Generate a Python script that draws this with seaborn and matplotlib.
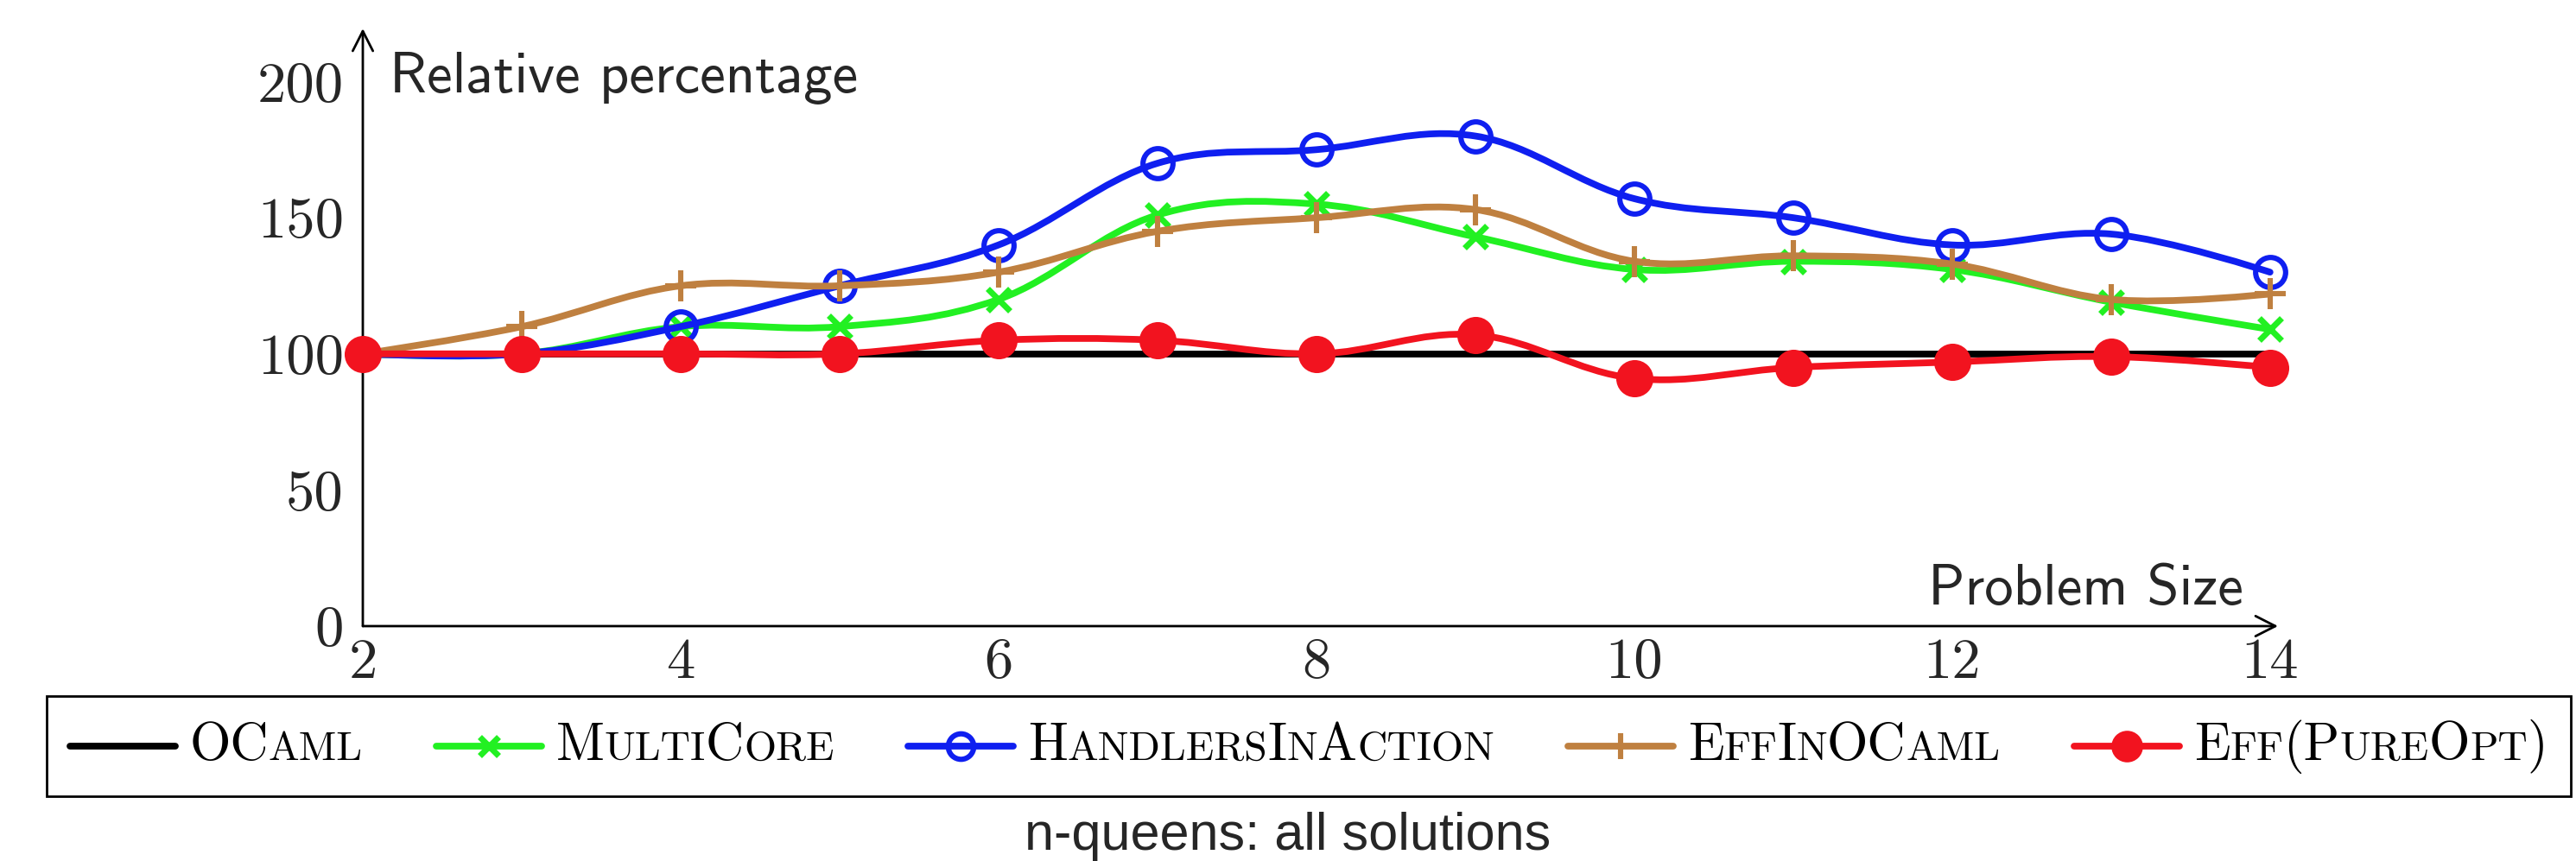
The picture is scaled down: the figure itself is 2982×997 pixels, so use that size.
import matplotlib
matplotlib.use("Agg")
import matplotlib.pyplot as plt
import numpy as np
import seaborn as sns
from matplotlib.lines import Line2D
from matplotlib.offsetbox import AnchoredOffsetbox, DrawingArea, HPacker, TextArea
from matplotlib.patches import PathPatch
from matplotlib.path import Path

# ── data ──────────────────────────────────────────────────────────────────
problem_size = [2, 3, 4, 5, 6, 7, 8, 9, 10, 11, 12, 13, 14]
ocaml = [100, 100, 100, 100, 100, 100, 100, 100, 100, 100, 100, 100, 100]
multicore = [100, 100, 110, 110, 120, 151, 155, 143, 131, 134, 131, 119, 109]
handlers_in_action = [100, 100, 110, 125, 140, 170, 175, 180, 157, 150, 140, 144, 130]
eff_in_ocaml = [100, 110, 125, 125, 130, 145, 150, 153, 134, 136, 133, 120, 122]
eff_pure_opt = [100, 100, 100, 100, 105, 105, 100, 107, 91, 95, 97, 99, 95]

series_names = ["OCaml", "MultiCore", "HandlersInAction", "EffInOCaml", "Eff(PureOpt)"]
x_ticks = [2, 4, 6, 8, 10, 12, 14]
y_ticks = [0, 50, 100, 150, 200]

# ── styles (pgfplots look) ────────────────────────────────────────────────
colors = ["black", "#22F022", "#0F1FF0", "#BF8040", "#F2131F"]
markers = [None, "x", "o", "+", "o"]
marker_sizes = [0, 19, 25, 26, 31]
marker_faces = [None, "#22F022", "none", "#BF8040", "#F2131F"]
marker_edges = [0, 5.0, 4.4, 4.4, 0]
LW = 5.6
SMOOTH = 0.18   # bezier handle factor, gives the "smooth" pgfplots look


def smooth_path(xs, ys, f=SMOOTH):
    """TikZ-style 'smooth' curve: cubic Bezier through every point."""
    p = np.column_stack([xs, ys]).astype(float)
    verts, codes = [p[0]], [Path.MOVETO]
    n = len(p)
    for i in range(n - 1):
        c1 = p[i] if i == 0 else p[i] + f * (p[i + 1] - p[i - 1])
        c2 = p[i + 1] if i + 1 == n - 1 else p[i + 1] - f * (p[i + 2] - p[i])
        verts += [c1, c2, p[i + 1]]
        codes += [Path.CURVE4] * 3
    return Path(verts, codes)


def smallcaps_label(name, size, ratio=0.78):
    runs = []
    for ch in name:
        small = ch.islower()
        if runs and runs[-1][1] == small:
            runs[-1][0] += ch
        else:
            runs.append([ch, small])
    parts = [
        TextArea(t.upper() if s else t,
                 textprops=dict(fontfamily="cmr10", fontsize=size * ratio if s else size, color="black"))
        for t, s in runs
    ]
    return HPacker(children=parts, align="baseline", pad=0, sep=0)


sns.set_theme(style="white")
plt.rcParams["font.family"] = ["DejaVu Sans"]
plt.rcParams["axes.formatter.use_mathtext"] = True

W, H = 2982, 997
fig = plt.figure(figsize=(W / 100, H / 100), dpi=100)
ax = fig.add_axes([420 / W, 1 - 725 / H, 2217 / W, 692 / H])

all_series = [ocaml, multicore, handlers_in_action, eff_in_ocaml, eff_pure_opt]

sns.lineplot(x=problem_size, y=ocaml, ax=ax, color="black", lw=LW, zorder=2, clip_on=False)
for i, vals in enumerate(all_series[1:], start=1):
    ax.add_patch(PathPatch(smooth_path(problem_size, vals), fill=False, edgecolor=colors[i],
                           lw=LW, zorder=2 + 2 * i, capstyle="round", joinstyle="round", clip_on=False))
    sns.lineplot(x=problem_size, y=vals, ax=ax, color=colors[i], linestyle="none",
                 marker=markers[i], markersize=marker_sizes[i],
                 markerfacecolor=marker_faces[i], markeredgecolor=colors[i],
                 markeredgewidth=marker_edges[i], zorder=3 + 2 * i, clip_on=False)

ax.set_xlim(2, 14.05)
ax.set_ylim(0, 219.5)
ax.set_xticks(x_ticks, labels=[str(t) for t in x_ticks], fontfamily="cmr10", fontsize=48)
ax.set_yticks(y_ticks, labels=[str(t) for t in y_ticks], fontfamily="cmr10", fontsize=48)
ax.tick_params(axis="both", length=0)
ax.tick_params(axis="x", pad=10)
ax.tick_params(axis="y", pad=16)
ax.set_xlabel("")
ax.set_ylabel("")
ax.grid(False)
sns.despine(ax=ax, left=True, bottom=True)

arrow = dict(arrowstyle="->,head_length=0.55,head_width=0.28", lw=2.0, color="black",
             shrinkA=0, shrinkB=0, mutation_scale=30)
ax.annotate("", xy=(1, 0), xytext=(0, 0), xycoords="axes fraction", arrowprops=arrow, annotation_clip=False)
ax.annotate("", xy=(0, 1), xytext=(0, 0), xycoords="axes fraction", arrowprops=arrow, annotation_clip=False)

fig.text(451 / W, 1 - 107 / H, "Relative percentage", fontfamily="cmss10", fontsize=48,
         ha="left", va="baseline")
fig.text(2597 / W, 1 - 700 / H, "Problem Size", fontfamily="cmss10", fontsize=48,
         ha="right", va="baseline")

# legend box below the plot
entries = []
for i, name in enumerate(series_names):
    da = DrawingArea(88, 36, 0, 0)
    da.add_artist(Line2D([0, 88], [18, 18], color=colors[i], lw=LW))
    if markers[i]:
        da.add_artist(Line2D([44], [18], marker=markers[i], markersize=marker_sizes[i] * 0.85,
                             markerfacecolor=marker_faces[i], markeredgecolor=colors[i],
                             markeredgewidth=marker_edges[i], linestyle="none"))
    entries.append(HPacker(children=[da, smallcaps_label(name, 44)], align="center", pad=0, sep=12))

row = HPacker(children=entries, align="center", pad=19, sep=0, mode="expand", width=2869)
legend_box = AnchoredOffsetbox(loc="center", child=row, pad=0, borderpad=0, frameon=True,
                               bbox_to_anchor=(1515 / W, 1 - 864 / H), bbox_transform=fig.transFigure)
legend_box.patch.set_linewidth(2)
legend_box.patch.set_edgecolor("black")
fig.add_artist(legend_box)

fig.text(0.5, 1 - 984 / H, "n-queens: all solutions", fontfamily="Liberation Sans", fontsize=44,
         ha="center", va="baseline")

fig.savefig("out.png", dpi=100)
